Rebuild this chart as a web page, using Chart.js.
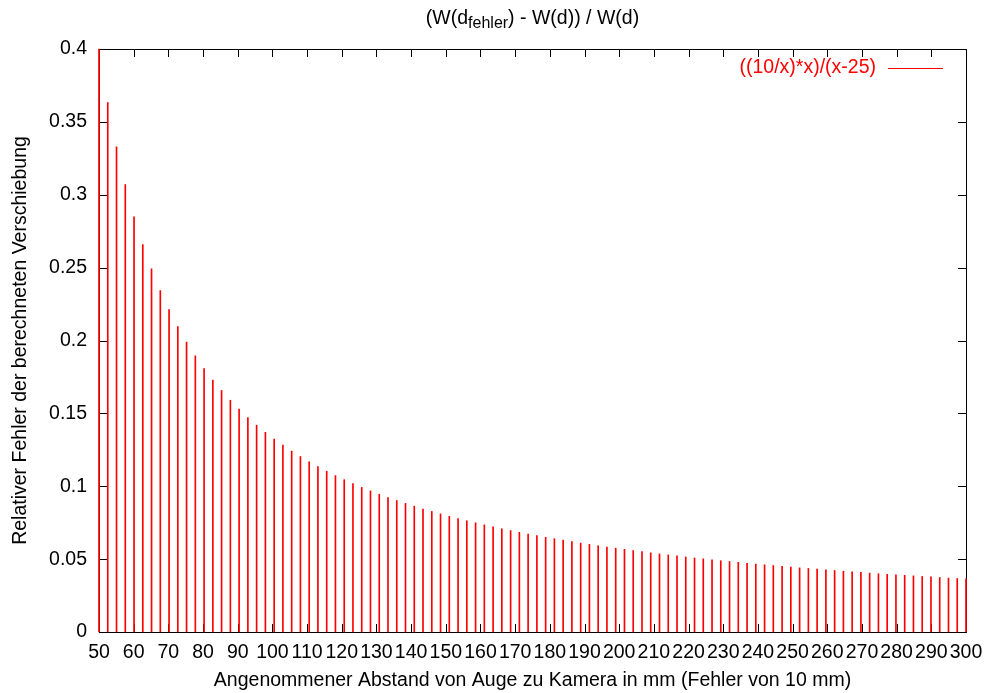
<!DOCTYPE html>
<html>
<head>
<meta charset="utf-8">
<script src="https://cdn.jsdelivr.net/npm/chart.js@4.4.0/dist/chart.umd.min.js"></script>
<style>
  body { margin: 0; background: #fff; }
  canvas { display: block; }
</style>
</head>
<body>
<canvas id="grafico" width="985" height="693"></canvas>
<script>
// Abtastpunkte (x in mm) und Werte der Impulse
const xWerte = [
  50, 52.53, 55.05, 57.58, 60.10, 62.63, 65.15, 67.68, 70.20, 72.73,
  75.25, 77.78, 80.30, 82.83, 85.35, 87.88, 90.40, 92.93, 95.45, 97.98,
  100.51, 103.03, 105.56, 108.08, 110.61, 113.13, 115.66, 118.18, 120.71, 123.23,
  125.76, 128.28, 130.81, 133.33, 135.86, 138.38, 140.91, 143.43, 145.96, 148.48,
  151.01, 153.54, 156.06, 158.59, 161.11, 163.64, 166.16, 168.69, 171.21, 173.74,
  176.26, 178.79, 181.31, 183.84, 186.36, 188.89, 191.41, 193.94, 196.46, 198.99,
  201.52, 204.04, 206.57, 209.09, 211.62, 214.14, 216.67, 219.19, 221.72, 224.24,
  226.77, 229.29, 231.82, 234.34, 236.87, 239.39, 241.92, 244.44, 246.97, 249.49,
  252.02, 254.55, 257.07, 259.60, 262.12, 264.65, 267.17, 269.70, 272.22, 274.75,
  277.27, 279.80, 282.32, 284.85, 287.37, 289.90, 292.42, 294.95, 297.47, 300
];
const fehlerWerte = [
  0.4000, 0.3633, 0.3328, 0.3070, 0.2849, 0.2658, 0.2491, 0.2343, 0.2212, 0.2095,
  0.1990, 0.1895, 0.1808, 0.1729, 0.1657, 0.1590, 0.1529, 0.1472, 0.1419, 0.1370,
  0.1324, 0.1282, 0.1241, 0.1204, 0.1168, 0.1135, 0.1103, 0.1073, 0.1045, 0.1018,
  0.0992, 0.0968, 0.0945, 0.0923, 0.0902, 0.0882, 0.0863, 0.0844, 0.0827, 0.0810,
  0.0794, 0.0778, 0.0763, 0.0749, 0.0735, 0.0721, 0.0708, 0.0696, 0.0684, 0.0672,
  0.0661, 0.0650, 0.0640, 0.0630, 0.0620, 0.0610, 0.0601, 0.0592, 0.0583, 0.0575,
  0.0567, 0.0559, 0.0551, 0.0543, 0.0536, 0.0529, 0.0522, 0.0515, 0.0508, 0.0502,
  0.0496, 0.0489, 0.0484, 0.0478, 0.0472, 0.0466, 0.0461, 0.0456, 0.0451, 0.0445,
  0.0440, 0.0436, 0.0431, 0.0426, 0.0422, 0.0417, 0.0413, 0.0409, 0.0404, 0.0400,
  0.0396, 0.0392, 0.0389, 0.0385, 0.0381, 0.0378, 0.0374, 0.0370, 0.0367, 0.0364
];
const xTicks = [50, 60, 70, 80, 90, 100, 110, 120, 130, 140, 150, 160, 170, 180, 190,
  200, 210, 220, 230, 240, 250, 260, 270, 280, 290, 300];
const yTicks = [0, 0.05, 0.1, 0.15, 0.2, 0.25, 0.3, 0.35, 0.4];

const legendeText = '((10/x)*x)/(x-25)';
const xTitel = 'Angenommener Abstand von Auge zu Kamera in mm (Fehler von 10 mm)';
const yTitel = 'Relativer Fehler der berechneten Verschiebung';

const schrift = '"Liberation Sans", Arial, sans-serif';
const groesse = 19.5;

// Rahmen, Ticks nach innen, Titel und Legende im gnuplot-Stil
const rahmen = {
  id: 'rahmen',
  beforeDatasetsDraw(chart) {
    const { ctx, chartArea: a, scales } = chart;
    ctx.save();
    ctx.strokeStyle = '#000';
    ctx.lineWidth = 1;
    ctx.beginPath();
    scales.x.ticks.forEach(t => {
      const px = Math.round(scales.x.getPixelForValue(t.value)) + 0.5;
      ctx.moveTo(px, a.bottom); ctx.lineTo(px, a.bottom - 8);
      ctx.moveTo(px, a.top); ctx.lineTo(px, a.top + 8);
    });
    scales.y.ticks.forEach(t => {
      const py = Math.round(scales.y.getPixelForValue(t.value)) + 0.5;
      ctx.moveTo(a.left, py); ctx.lineTo(a.left + 8, py);
      ctx.moveTo(a.right, py); ctx.lineTo(a.right - 8, py);
    });
    ctx.stroke();
    ctx.strokeRect(a.left + 0.5, a.top + 0.5, a.right - a.left, a.bottom - a.top);
    ctx.restore();
  },
  afterDraw(chart) {
    const { ctx, chartArea: a } = chart;
    const mitteX = (a.left + a.right) / 2;
    ctx.save();
    ctx.fillStyle = '#000';
    ctx.textBaseline = 'middle';

    // Titel mit Index
    const gross = groesse + 'px ' + schrift;
    const klein = Math.round(groesse * 0.8) + 'px ' + schrift;
    const teile = [['(W(d', gross, 0], ['fehler', klein, 5], [') - W(d)) / W(d)', gross, 0]];
    let breite = 0;
    teile.forEach(t => { ctx.font = t[1]; breite += ctx.measureText(t[0]).width; });
    let x = mitteX - breite / 2;
    ctx.textAlign = 'left';
    teile.forEach(t => {
      ctx.font = t[1];
      ctx.fillText(t[0], x, 19 + t[2]);
      x += ctx.measureText(t[0]).width;
    });

    ctx.font = gross;
    ctx.textAlign = 'center';
    ctx.fillText(xTitel, mitteX, 681);

    ctx.save();
    ctx.translate(21, (a.top + a.bottom) / 2);
    ctx.rotate(-Math.PI / 2);
    ctx.fillText(yTitel, 0, 0);
    ctx.restore();

    // Legende
    ctx.fillStyle = '#ff0000';
    ctx.textAlign = 'right';
    ctx.fillText(legendeText, 876, 68);
    ctx.strokeStyle = '#ff0000';
    ctx.lineWidth = 1;
    ctx.beginPath();
    ctx.moveTo(888, 68.5);
    ctx.lineTo(943, 68.5);
    ctx.stroke();
    ctx.restore();
  }
};

new Chart(document.getElementById('grafico'), {
  type: 'bar',
  data: {
    datasets: [{
      label: legendeText,
      data: xWerte.map((x, i) => ({ x: x, y: fehlerWerte[i] })),
      backgroundColor: '#ff0000',
      borderWidth: 0,
      barThickness: 1,
      clip: false
    }]
  },
  options: {
    responsive: false,
    animation: false,
    layout: { padding: { top: 49, right: 19, left: 0, bottom: 0 } },
    plugins: {
      legend: { display: false },
      title: { display: false },
      tooltip: { enabled: false }
    },
    scales: {
      x: {
        type: 'linear',
        min: 50,
        max: 300,
        offset: false,
        grid: { display: false, drawTicks: false },
        border: { display: false },
        afterBuildTicks: s => { s.ticks = xTicks.map(v => ({ value: v })); },
        afterFit: s => { s.height = 61; s.paddingLeft = 0; s.paddingRight = 0; },
        ticks: {
          autoSkip: false,
          maxRotation: 0,
          minRotation: 0,
          padding: 9,
          color: '#000',
          font: { family: schrift, size: groesse },
          callback: v => String(v)
        }
      },
      y: {
        min: 0,
        max: 0.4,
        grid: { display: false, drawTicks: false },
        border: { display: false },
        afterBuildTicks: s => { s.ticks = yTicks.map(v => ({ value: v })); },
        afterFit: s => { s.width = 99; s.paddingTop = 0; s.paddingBottom = 0; },
        ticks: {
          padding: 12,
          color: '#000',
          font: { family: schrift, size: groesse },
          callback: v => String(v)
        }
      }
    }
  },
  plugins: [rahmen]
});
</script>
</body>
</html>
